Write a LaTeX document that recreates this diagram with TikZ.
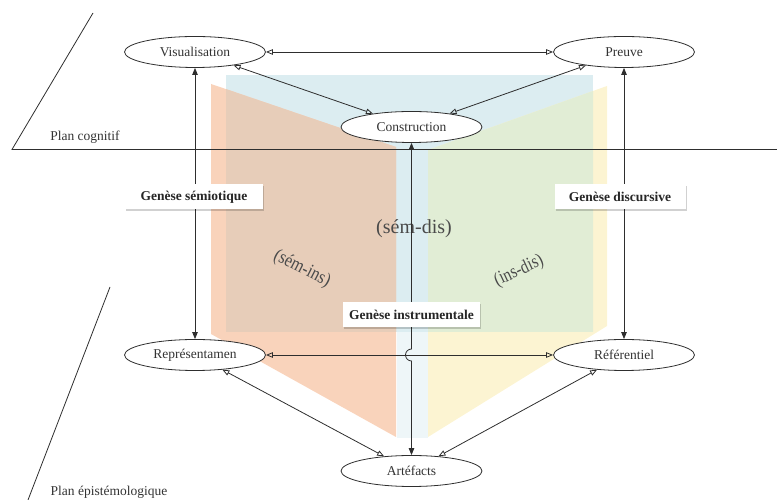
\documentclass[tikz,border=0pt]{standalone}
\usepackage{fontspec}
\setmainfont{Liberation Serif}
\usetikzlibrary{arrows.meta,shapes.geometric,shadows,calc}
\definecolor{bluep}{HTML}{DCEDF1}
\definecolor{orout}{HTML}{F9D3BB}
\definecolor{orin}{HTML}{E7CDB9}
\definecolor{yeout}{HTML}{FCF4D2}
\definecolor{yein}{HTML}{E1EDD5}
\definecolor{strip}{HTML}{EEF6F8}
\definecolor{linec}{HTML}{2E2E2E}
\definecolor{textc}{HTML}{333333}
\definecolor{bigc}{HTML}{4A4A4A}
\begin{document}
\begin{tikzpicture}[x=1pt,y=1pt,
  ell/.style={ellipse, draw=linec, line width=0.8pt, fill=white, minimum width=141pt, minimum height=31pt, inner sep=0pt, font=\fontsize{13.5}{16}\selectfont, text=textc},
  lab/.style={fill=white, minimum height=25pt, inner sep=0pt, font=\fontsize{13.5}{16}\selectfont\bfseries, text=black!85,
    drop shadow={shadow xshift=1pt, shadow yshift=-1.5pt, fill=black, opacity=0.18}},
  big/.style={font=\fontsize{20}{24}\selectfont, text=bigc, inner sep=0pt},
  side/.style={font=\fontsize{19}{22}\selectfont, text=bigc, inner sep=0pt},
  plan/.style={font=\fontsize{13.5}{16}\selectfont, text=textc, inner sep=0pt},
  conn/.style={draw=linec, line width=0.8pt},
  dopen/.style={conn, {Triangle[open, length=7pt, width=5.5pt]}-{Triangle[open, length=7pt, width=5.5pt]}},
  dfill/.style={conn, {Triangle[length=7pt, width=5.5pt]}-{Triangle[length=7pt, width=5.5pt]}},
  sep/.style={draw=linec, line width=0.8pt}
]
\useasboundingbox (0,0) rectangle (777,500);
% coloured panels
\fill[bluep] (226,425) rectangle (593,168);
\fill[strip] (397,168) rectangle (428,62);
\fill[orout] (211,416) -- (396,353) -- (396,63) -- (211,166) -- cycle;
\fill[yeout] (428,350) -- (607,414) -- (607,174) -- (428,63) -- cycle;
\begin{scope}
  \clip (226,425) rectangle (593,168);
  \fill[orin] (211,416) -- (396,353) -- (396,63) -- (211,166) -- cycle;
  \fill[yein] (428,350) -- (607,414) -- (607,174) -- (428,63) -- cycle;
\end{scope}
% big labels
\node[big] (semdis) at (414,271) {(sém-dis)};
\node[side, rotate=-27] (semins) at (302,231) {\scalebox{0.85}[1]{(sém-ins)}};
\node[side, rotate=25] (insdis) at (519,229) {\scalebox{0.82}[1]{(ins-dis)}};
% plan lines
\coordinate (hl) at (12,350.5);
\coordinate (hr) at (777,350.5);
\coordinate (tl) at (93,487);
\coordinate (bt) at (110,213);
\coordinate (bb) at (28,0);
\draw[sep] (tl) -- (hl) -- (hr);
\draw[sep] (bt) -- (bb);
\node[plan] (pcog) at (85,363) {Plan cognitif};
\node[plan] (pepi) at (109,8) {Plan épistémologique};
% nodes
\node[ell] (vis) at (195,448) {Visualisation};
\node[ell] (pre) at (624,448) {Preuve};
\node[ell] (cons) at (411.5,373) {Construction};
\node[ell] (rep) at (195,145) {Représentamen};
\node[ell] (ref) at (624,145) {Référentiel};
\node[ell] (art) at (411.5,29) {Artéfacts};
% connectors
\draw[dopen] (vis) -- (pre);
\draw[dopen] (vis) -- (cons);
\draw[dopen] (pre) -- (cons);
\draw[dopen] (rep) -- (ref);
\draw[dopen] (rep) -- (art);
\draw[dopen] (ref) -- (art);
\draw[dfill] (vis) -- (rep);
\draw[dfill] (pre) -- (ref);
\draw[dfill] (cons) -- ([yshift=6pt]cons |- rep) arc[start angle=90, end angle=270, radius=6pt] -- (art);
% genesis labels
\node[lab, minimum width=138pt] (gsem) at (194,303) {Genèse sémiotique};
\node[lab, minimum width=131pt] (gdis) at (620,303) {Genèse discursive};
\node[lab, minimum width=137pt] (gins) at (411.5,185) {Genèse instrumentale};
\end{tikzpicture}
\end{document}
